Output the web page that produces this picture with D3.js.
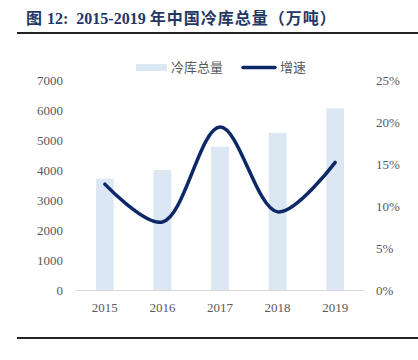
<!DOCTYPE html>
<html lang="zh">
<head>
<meta charset="UTF-8">
<title>2015-2019年中国冷库总量</title>
<script src="https://cdn.jsdelivr.net/npm/d3@7"></script>
<style>
	body { margin: 0; background: #fff; }
	svg text { font-family: "Liberation Serif", "Times New Roman", serif; }
</style>
</head>
<body>
<div id="chart"></div>
<script>
// 数据
var years = ["2015", "2016", "2017", "2018", "2019"];
var storage = [3710, 4000, 4775, 5238, 6053]; // 冷库总量（万吨）
var growth = [0.126, 0.081, 0.194, 0.093, 0.152]; // 增速
var leftTicks = [0, 1000, 2000, 3000, 4000, 5000, 6000, 7000];
var rightTicks = [0, 0.05, 0.10, 0.15, 0.20, 0.25];

var W = 418, H = 360;
var svg = d3.select("#chart").append("svg")
	.attr("width", W)
	.attr("height", H);

// 标题
var title = svg.append("text")
	.attr("x", 26)
	.attr("y", 24)
	.attr("fill", "#1f3864")
	.attr("font-weight", "bold")
	.attr("font-size", 16)
	.style("white-space", "pre");
title.append("tspan").style("font-family", "Noto Sans CJK SC").text("图");
title.append("tspan").attr("dx", 5).text("12:");
title.append("tspan").attr("dx", 8).text("2015-2019");
title.append("tspan").attr("dx", 4).style("font-family", "Noto Sans CJK SC").attr("letter-spacing", 1).text("年中国冷库总量（万吨）");

svg.append("line")
	.attr("x1", 17).attr("x2", W)
	.attr("y1", 33).attr("y2", 33)
	.attr("stroke", "#222").attr("stroke-width", 2);
svg.append("line")
	.attr("x1", 17).attr("x2", W)
	.attr("y1", 338).attr("y2", 338)
	.attr("stroke", "#222").attr("stroke-width", 2);

// 比例尺
var x = d3.scaleBand().domain(years).range([76, 364]).paddingInner(0.69).paddingOuter(0.345);
var yL = d3.scaleLinear().domain([0, 7000]).range([290, 80]);
var yR = d3.scaleLinear().domain([0, 0.25]).range([290, 80]);

// 柱
svg.append("g").selectAll("rect")
	.data(storage)
	.enter().append("rect")
	.attr("x", function(d, i){ return x(years[i]); })
	.attr("y", function(d){ return yL(d); })
	.attr("width", x.bandwidth())
	.attr("height", function(d){ return yL(0) - yL(d); })
	.attr("fill", "#dce7f4");

// 坐标轴
var axL = svg.append("g").attr("transform", "translate(63,0)")
	.call(d3.axisLeft(yL).tickValues(leftTicks).tickSize(0).tickPadding(0).tickFormat(d3.format("d")));
var axR = svg.append("g").attr("transform", "translate(376,0)")
	.call(d3.axisRight(yR).tickValues(rightTicks).tickSize(0).tickPadding(0).tickFormat(d3.format(".0%")));
var axB = svg.append("g").attr("transform", "translate(0,290)")
	.call(d3.axisBottom(x).tickSize(0).tickPadding(13));
[axL, axR, axB].forEach(function(g){
	g.select(".domain").remove();
	g.selectAll("text")
		.attr("fill", "#595959")
		.attr("font-size", 13)
		.style("font-family", "Liberation Serif");
});
svg.append("line")
	.attr("x1", 76).attr("x2", 364)
	.attr("y1", 290.5).attr("y2", 290.5)
	.attr("stroke", "#d9d9d9").attr("stroke-width", 1);

// 折线
var line = d3.line()
	.x(function(d, i){ return x(years[i]) + x.bandwidth() / 2; })
	.y(function(d){ return yR(d); })
	.curve(d3.curveCatmullRom.alpha(0.5));
svg.append("path")
	.datum(growth)
	.attr("d", line)
	.attr("fill", "none")
	.attr("stroke", "#0c2866")
	.attr("stroke-width", 3.5)
	.attr("stroke-linecap", "round");

// 图例
var lg = svg.append("g").attr("font-size", 13).attr("fill", "#595959");
lg.append("rect").attr("x", 136).attr("y", 64).attr("width", 31).attr("height", 7).attr("fill", "#dce7f4");
lg.append("text").attr("x", 171).attr("y", 72).style("font-family", "Noto Sans CJK SC").attr("fill", "#595959").text("冷库总量");
lg.append("line").attr("x1", 243).attr("x2", 275).attr("y1", 67.5).attr("y2", 67.5)
	.attr("stroke", "#0c2866").attr("stroke-width", 3.5).attr("stroke-linecap", "round");
lg.append("text").attr("x", 280).attr("y", 72).style("font-family", "Noto Sans CJK SC").attr("fill", "#595959").text("增速");
</script>
</body>
</html>
